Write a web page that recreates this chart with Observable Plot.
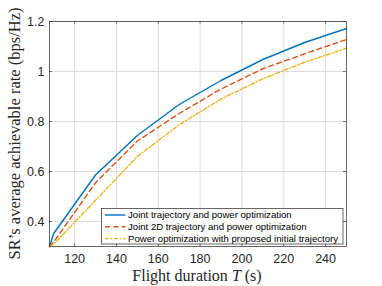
<!DOCTYPE html>
<html><head><meta charset="utf-8">
<script src="https://cdn.jsdelivr.net/npm/d3@7"></script>
<script src="https://cdn.jsdelivr.net/npm/@observablehq/plot@0.6"></script>
<style>body{margin:0;background:#fff}</style>
</head><body><div id="chart"></div>
<script>
const T = [108, 110, 130, 150, 170, 190, 210, 230, 250];
const joint = [0.30, 0.352, 0.586, 0.744, 0.868, 0.964, 1.048, 1.116, 1.172];
const joint2D = [0.30, 0.318, 0.555, 0.722, 0.832, 0.930, 1.011, 1.071, 1.128];
const powerOpt = [0.30, 0.309, 0.485, 0.660, 0.787, 0.890, 0.971, 1.037, 1.093];
const seriesNames = ["Joint trajectory and power optimization", "Joint 2D trajectory and power optimization", "Power optimization with proposed initial trajectory"];
const colors = ["#0072BD", "#D95319", "#EDB120"];
const dashes = [null, "5,3.5", "4,2,1,2"];
const xTicks = [120, 140, 160, 180, 200, 220, 240];
const yTicks = [0.4, 0.6, 0.8, 1, 1.2];

const allSeries = [joint, joint2D, powerOpt];
const data = [];
allSeries.forEach((vals, s) => T.forEach((t, i) => data.push({T: t, v: vals[i], s})));

const ml = 49, mr = 36, mt = 21, mb = 40;
const chart = Plot.plot({
  width: 382, height: 286,
  marginLeft: ml, marginRight: mr, marginTop: mt, marginBottom: mb,
  style: {fontFamily: "Liberation Sans, Arial, sans-serif", fontSize: "12.5px", color: "#262626", background: "#fff"},
  x: {domain: [108, 250], ticks: xTicks, label: null},
  y: {domain: [0.3, 1.2], ticks: yTicks, label: null, tickFormat: d3.format("~g")},
  marks: [
    Plot.gridX(xTicks, {stroke: "#dcdcdc", strokeOpacity: 1}),
    Plot.gridY(yTicks, {stroke: "#dcdcdc", strokeOpacity: 1}),
    Plot.axisX(xTicks, {tickSize: 0, tickPadding: 8, fill: "#262626"}),
    Plot.axisY(yTicks, {tickSize: 0, tickPadding: 5, fill: "#262626", tickFormat: d3.format("~g")}),
    Plot.ruleX(xTicks, {x: d => d, y1: 0.3, y2: 0.3 + 0.9 * 0.012, stroke: "#262626", strokeWidth: 0.6}),
    Plot.ruleX(xTicks, {x: d => d, y1: 1.2, y2: 1.2 - 0.9 * 0.012, stroke: "#262626", strokeWidth: 0.6}),
    Plot.ruleY(yTicks, {y: d => d, x1: 108, x2: 108 + 142 * 0.01, stroke: "#262626", strokeWidth: 0.6}),
    Plot.ruleY(yTicks, {y: d => d, x1: 250, x2: 250 - 142 * 0.01, stroke: "#262626", strokeWidth: 0.6}),
    ...allSeries.map((vals, s) => Plot.line(data.filter(d => d.s === s), {x: "T", y: "v", stroke: colors[s], strokeWidth: 1.4, strokeDasharray: dashes[s]})),
    Plot.frame({stroke: "#262626", strokeWidth: 0.7})
  ]
});
const svg = d3.select(chart);
// axis labels
svg.append("text").attr("x", 197).attr("y", 281).attr("text-anchor", "middle")
  .style("font-family", "Liberation Serif, Times New Roman, serif").style("font-size", "16px").attr("fill", "#262626")
  .html('Flight duration <tspan font-style="italic">T</tspan> (s)');
svg.append("text").attr("transform", `translate(20,${(mt + 286 - mb) / 2}) rotate(-90)`).attr("text-anchor", "middle")
  .style("font-family", "Liberation Serif, Times New Roman, serif").style("font-size", "16.5px").attr("fill", "#262626")
  .text("SR\u2019s average achievable rate (bps/Hz)");
// legend
const lg = svg.append("g").attr("text-anchor", "start");
lg.append("rect").attr("x", 101.5).attr("y", 208.5).attr("width", 241.5).attr("height", 35.5)
  .attr("fill", "#fff").attr("stroke", "#262626").attr("stroke-width", 0.7);
seriesNames.forEach((n, i) => {
  const yy = 215 + i * 11.8;
  lg.append("line").attr("x1", 105).attr("x2", 125.5).attr("y1", yy).attr("y2", yy)
    .attr("stroke", colors[i]).attr("stroke-width", 1.4).attr("stroke-dasharray", dashes[i]);
  lg.append("text").attr("x", 128).attr("y", yy).attr("dy", "0.35em").attr("text-anchor", "start")
    .style("font-family", "Liberation Sans, Arial, sans-serif").style("font-size", "9.6px").attr("fill", "#000").text(n);
});
document.getElementById("chart").appendChild(chart);
</script></body></html>
